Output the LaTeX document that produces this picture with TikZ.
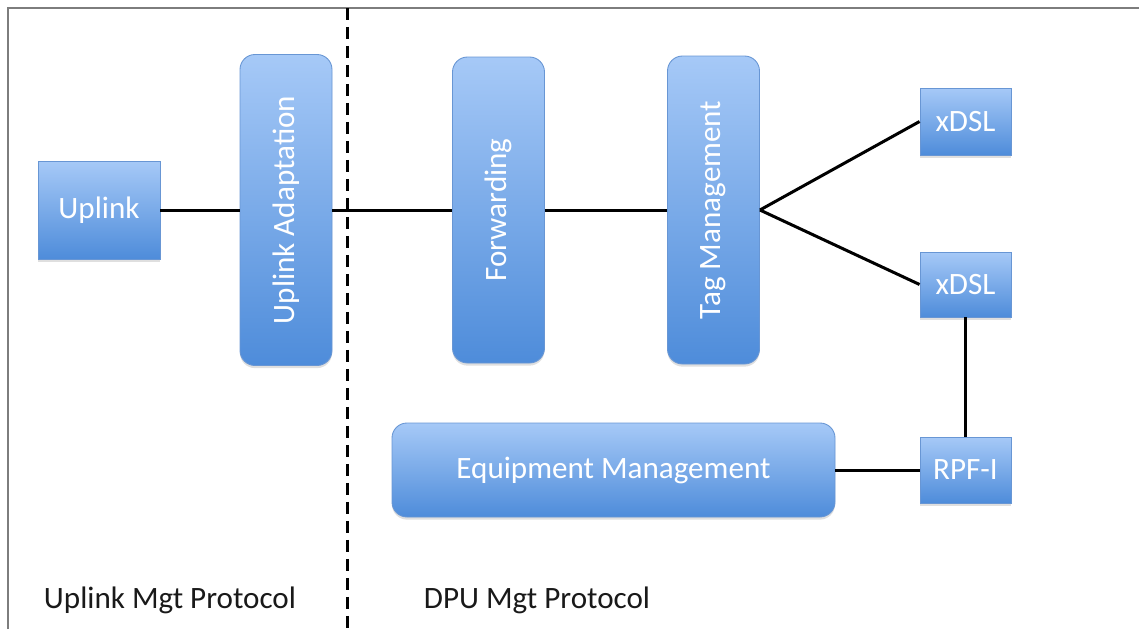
\documentclass[tikz,border=0pt]{standalone}
\usepackage{fontspec}
\setmainfont{Carlito}
\usepackage{tikz}
\usetikzlibrary{shadows}
\definecolor{boxtop}{RGB}{166,201,247}
\definecolor{boxbottom}{RGB}{78,140,218}
\definecolor{boxline}{RGB}{104,150,212}
\definecolor{framegray}{RGB}{125,125,125}
\definecolor{labeltext}{RGB}{25,25,25}

\begin{document}
\begin{tikzpicture}[x=0.02cm,y=-0.02cm]
    \newcommand{\pixel}[0]{ 0.02cm }
    \tikzstyle{edge}  = [line width=3*\pixel,draw=black]
    \tikzstyle{block}=[
      rectangle,
      draw=boxline,
      line width=0.5pt,
      top color=boxtop,
      bottom color=boxbottom,
      text=white,
      font=\fontsize{17.7}{21}\selectfont,
      inner sep=0pt,
      anchor=center,
      drop shadow={shadow xshift=0pt,shadow yshift=-1.5pt,opacity=0.25},
    ]
    \tikzstyle{tall}=[block,rounded corners=15*\pixel,minimum width=92*\pixel,minimum height=308*\pixel]
    \tikzstyle{port}=[block,minimum width=91*\pixel,minimum height=66*\pixel]
    \tikzstyle{caption}=[text=labeltext,font=\fontsize{17.7}{21}\selectfont]

    \useasboundingbox (0,0) rectangle (1139,629);

    % frame and divider
    \draw[framegray,line width=2.5*\pixel] (8,629) -- (8,8) -- (1139,8);
    \draw[black,line width=3*\pixel,dash pattern=on 0.24cm off 0.14cm] (347,8) -- (347,629);

    \node[block,minimum width=122*\pixel,minimum height=98*\pixel] (uplink) at (99,210) {Uplink};
    \node[tall,minimum height=311*\pixel] (adaptation) at (286,210)
      {\rotatebox{90}{Uplink Adaptation}};
    \node[tall,minimum height=306*\pixel] (forwarding) at (498.5,210)
      {\rotatebox{90}{Forwarding}};
    \node[tall] (tagmgmt) at (713.5,210)
      {\rotatebox{90}{Tag Management}};
    \node[port,minimum height=67*\pixel] (xdsl_a) at (965.5,121.5) {xDSL};
    \node[port,minimum height=65*\pixel] (xdsl_b) at (965.5,284.5) {xDSL};
    \node[port] (rpf) at (965.5,470) {RPF-I};
    \node[block,rounded corners=15*\pixel,minimum width=443*\pixel,minimum height=94*\pixel] (eqmgmt) at
      (613.5,470)
      {Equipment Management};

    \node[caption] (uplink_proto) at (170,600) {Uplink Mgt Protocol};
    \node[caption] (dpu_proto) at (537,600) {DPU Mgt Protocol};

    % uplink -> adaptation -> forwarding -> tag management
    \draw[edge] (uplink.east) -- (adaptation.west);
    \draw[edge] (adaptation.east) -- (forwarding.west);
    \draw[edge] (forwarding.east) -- (tagmgmt.west);

    % tag management <-> xdsl
    \draw[edge] (tagmgmt.east) -- (xdsl_a.west);
    \draw[edge] (tagmgmt.east) -- (xdsl_b.west);

    % xdsl <-> rpf <-> equipment
    \draw[edge] (xdsl_b.south) -- (rpf.north);
    \draw[edge] (eqmgmt.east) -- (rpf.west);
  \end{tikzpicture}
\end{document}
